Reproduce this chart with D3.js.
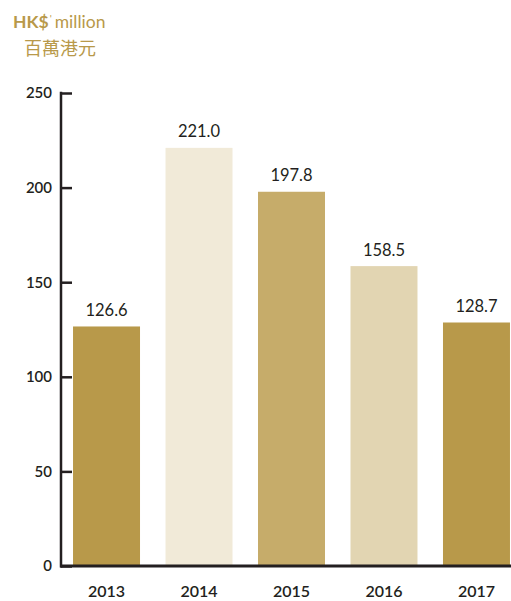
<!DOCTYPE html>
<html>
<head>
<meta charset="utf-8">
<script src="https://cdn.jsdelivr.net/npm/d3@7"></script>
<style>
  html, body { margin: 0; padding: 0; background: #fff; }
  svg { display: block; }
</style>
</head>
<body>
<svg id="chart" width="511" height="601"></svg>
<script>
const years = ["2013", "2014", "2015", "2016", "2017"];
const values = [126.6, 221.0, 197.8, 158.5, 128.7];
const valueLabels = ["126.6", "221.0", "197.8", "158.5", "128.7"];
const barColors = ["#b8994a", "#f1ead8", "#c6ac6a", "#e2d5b2", "#b8994a"];
const yTicks = [0, 50, 100, 150, 200, 250];

const svg = d3.select("#chart");
const axisColor = "#231f20";
const gold = "#b8994a";
const font = "Lato, 'Noto Sans', sans-serif";

const y = d3.scaleLinear().domain([0, 250]).range([566, 93]);
const x = d3.scaleBand().domain(years).range([61, 522]).paddingInner(0.2757).paddingOuter(0.13);

// bars
svg.append("g").selectAll("rect").data(years).join("rect")
  .attr("x", d => x(d))
  .attr("width", x.bandwidth())
  .attr("y", (d, i) => y(values[i]))
  .attr("height", (d, i) => y(0) - y(values[i]))
  .attr("fill", (d, i) => barColors[i]);

// value labels
svg.append("g").selectAll("text").data(years).join("text")
  .attr("x", d => x(d) + x.bandwidth() / 2)
  .attr("y", (d, i) => y(values[i]) - 10.5)
  .attr("text-anchor", "middle")
  .attr("font-family", font)
  .attr("font-size", 16.5)
  .attr("font-weight", 400)
  .attr("fill", axisColor)
  .text((d, i) => valueLabels[i]);

// y axis
const yAxis = d3.axisRight(y).tickValues(yTicks).tickSize(11).tickFormat("");
const gy = svg.append("g").attr("transform", "translate(61,0)").call(yAxis);
gy.select(".domain").remove();
gy.selectAll(".tick line").attr("stroke", axisColor).attr("stroke-width", 2.5);
svg.append("line")
  .attr("x1", 61).attr("x2", 61)
  .attr("y1", y(250) - 1.25).attr("y2", y(0) + 1.5)
  .attr("stroke", axisColor).attr("stroke-width", 2.5);

// y tick labels
svg.append("g").selectAll("text").data(yTicks).join("text")
  .attr("x", 52)
  .attr("y", d => y(d))
  .attr("dy", "0.36em")
  .attr("text-anchor", "end")
  .attr("font-family", font)
  .attr("font-size", 15)
  .attr("font-weight", 600)
  .attr("fill", axisColor)
  .text(d => d);

// x axis baseline
svg.append("line")
  .attr("x1", 60).attr("x2", 511)
  .attr("y1", y(0)).attr("y2", y(0))
  .attr("stroke", axisColor).attr("stroke-width", 3);

// x labels
const xAxis = d3.axisBottom(x).tickSize(0).tickPadding(0);
const gx = svg.append("g").attr("transform", "translate(0,597)").call(xAxis);
gx.select(".domain").remove();
gx.selectAll(".tick text")
  .attr("y", 0)
  .attr("dy", 0)
  .attr("font-family", font)
  .attr("font-size", 16)
  .attr("font-weight", 600)
  .attr("fill", axisColor);

// title
const t = svg.append("text")
  .attr("x", 13).attr("y", 28)
  .attr("font-family", font)
  .attr("font-size", 17.5)
  .attr("fill", gold);
t.append("tspan").attr("font-weight", 700).text("HK$");
t.append("tspan").attr("font-size", 10).attr("dy", -6).attr("dx", 1).text("'");
t.append("tspan").attr("dy", 6).attr("dx", 3).attr("font-weight", 400).text("million");

svg.append("text")
  .attr("x", 24).attr("y", 55)
  .attr("font-family", "'Noto Sans CJK TC', 'Noto Sans CJK SC', sans-serif")
  .attr("font-size", 18)
  .attr("font-weight", 400)
  .attr("fill", gold)
  .text("百萬港元");
</script>
</body>
</html>
